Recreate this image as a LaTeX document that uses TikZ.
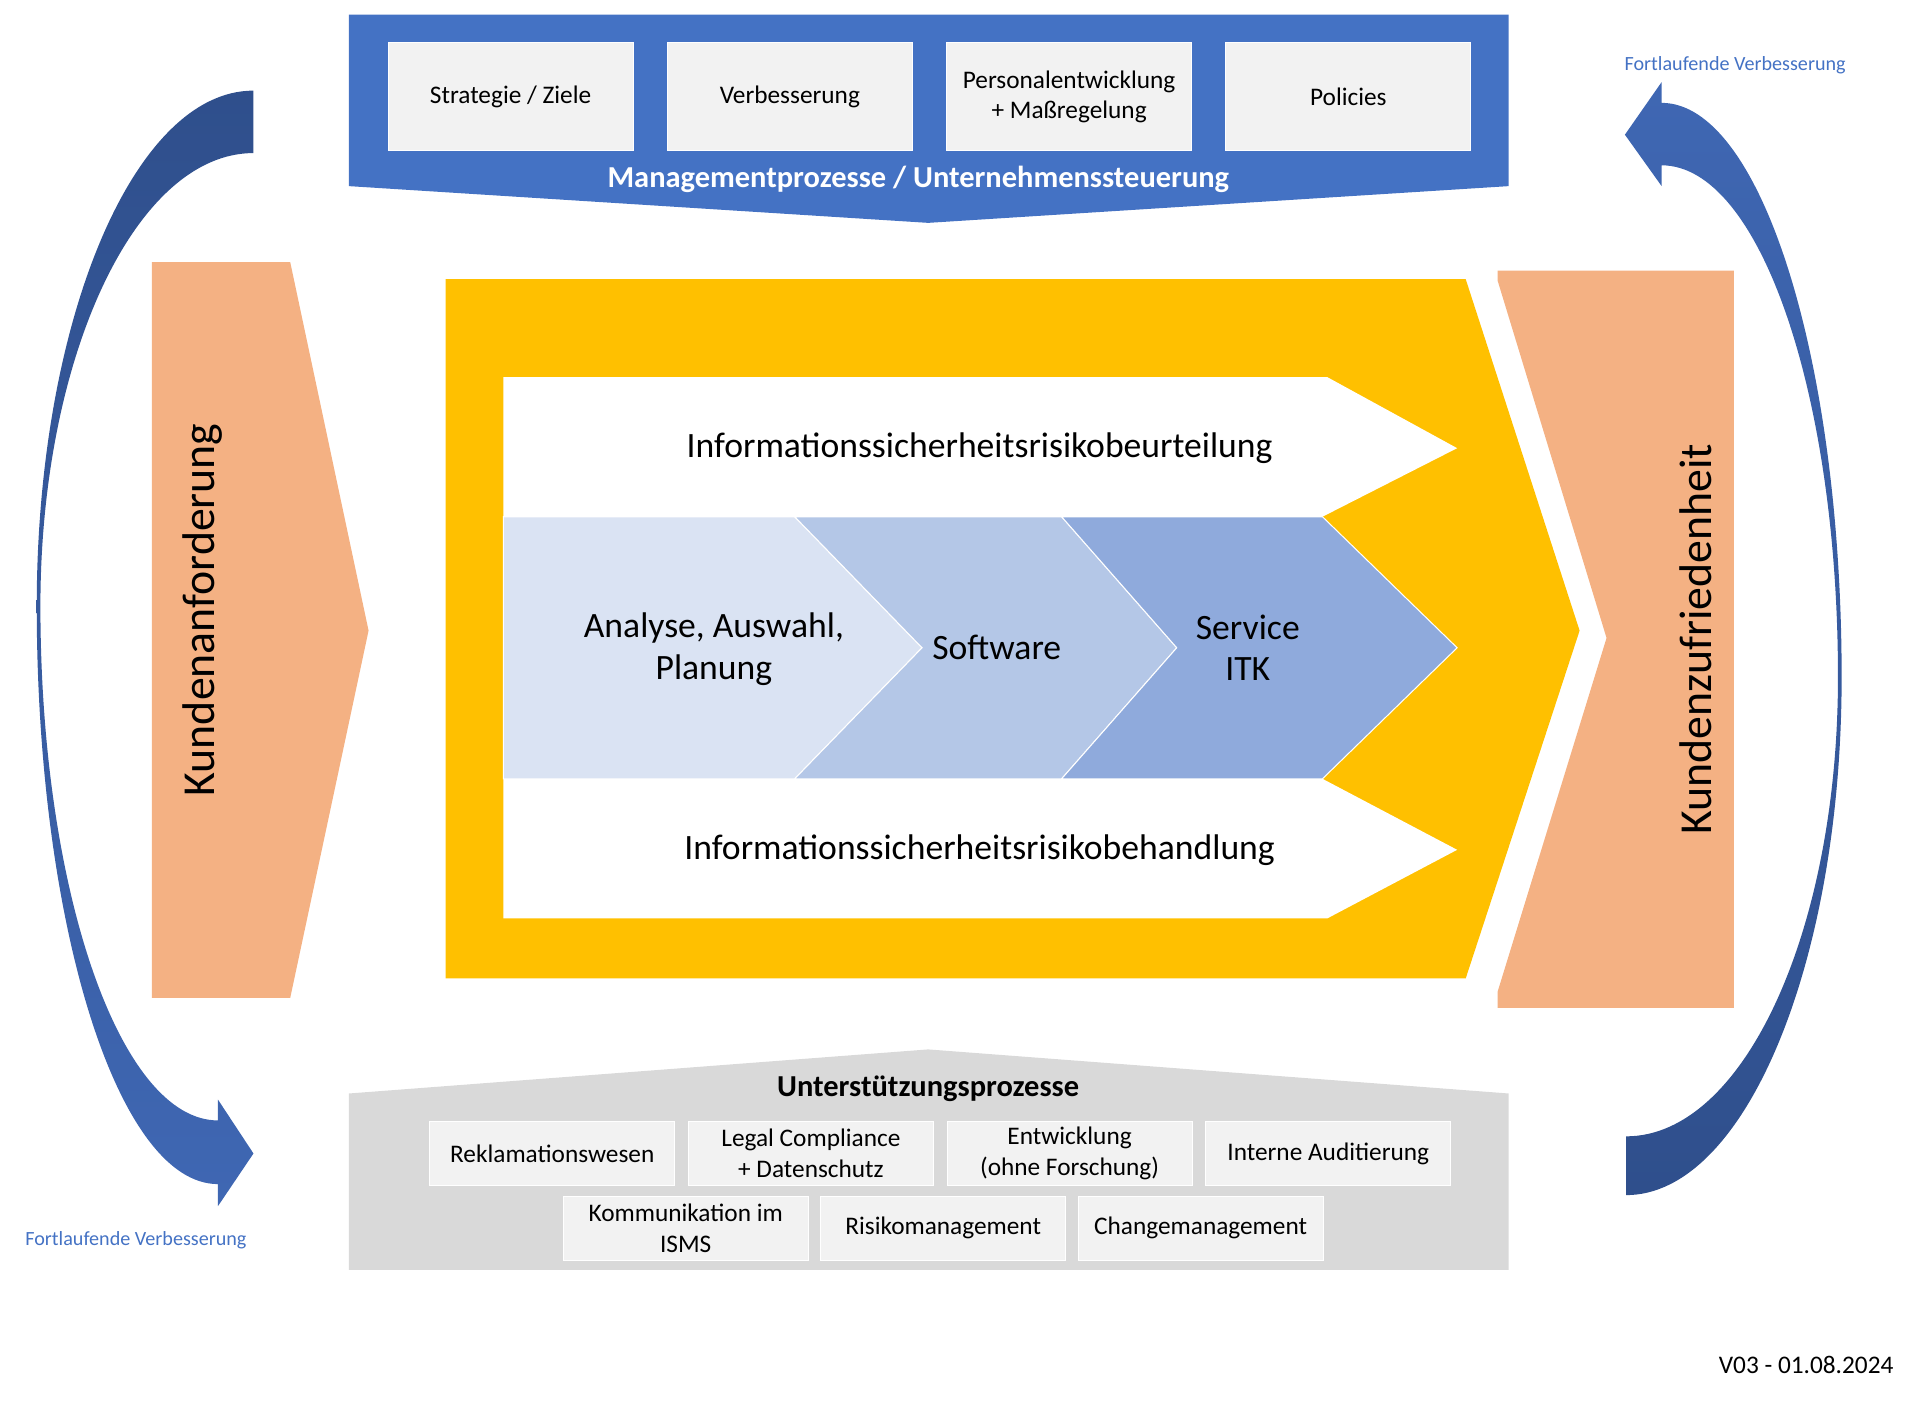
\documentclass[tikz,border=0pt]{standalone}
\usepackage{fontspec}
\setmainfont{Carlito}
\usepackage{tikz}
\usetikzlibrary{positioning}
\definecolor{mgmtblue}{HTML}{4472C4}
\definecolor{boxgray}{HTML}{F2F2F2}
\definecolor{suppgray}{HTML}{D9D9D9}
\definecolor{custtan}{HTML}{F4B183}
\definecolor{coreyellow}{HTML}{FFC000}
\definecolor{chevA}{HTML}{DAE3F3}
\definecolor{chevB}{HTML}{B4C7E7}
\definecolor{chevC}{HTML}{8FAADC}
\definecolor{arrowdark}{HTML}{2F4F8C}
\definecolor{arrowlight}{HTML}{3F67B3}
\newcommand{\boxtxt}{\fontsize{14.7}{17.8}\selectfont}
\newcommand{\chevtxt}{\fontsize{20.7}{24.2}\selectfont}
\newcommand{\sidetxt}{\fontsize{26.6}{32}\selectfont}
\newcommand{\headtxt}{\fontsize{17.7}{21}\selectfont\bfseries}
\newcommand{\notetxt}{\fontsize{11.7}{14}\selectfont}
\tikzset{
	subbox/.style={
		rectangle,
		fill=boxgray,
		draw=white,
		line width=.6pt,
		align=center,
		inner sep=0pt,
		minimum width=50mm,
		font=\boxtxt
	},
	chevron/.style={
		draw=white,
		line width=.6pt
	}
}

\begin{document}
\begin{tikzpicture}[x=0.25mm, y=-0.25mm]
				\useasboundingbox (0,0) rectangle (1568,1148);
				
				\fill[mgmtblue] (285,12) -- (1232,12) -- (1232,152) -- (758,182) -- (285,152) -- cycle;
				\node[subbox, minimum height=22mm] (Strat) at (417,79) {Strategie / Ziele};
				\node[subbox, minimum height=22mm, right=6.8mm of Strat] (Verb) {Verbesserung};
				\node[subbox, minimum height=22mm, right=6.8mm of Verb] (Pers) {Personalentwicklung\\+ Maßregelung};
				\node[subbox, minimum height=22mm, right=6.8mm of Pers] (Pol) {Policies};
				\node[font=\headtxt, text=white, anchor=base] (MgmtTitle) at (750,153) {Managementprozesse / Unternehmenssteuerung};
				
				\fill[custtan] (124,214) -- (237,214) -- (301,515) -- (237,815) -- (124,815) -- cycle;
				\node[font=\sidetxt, rotate=90] (KAnf) at (165,498) {Kundenanforderung};
				
				\fill[coreyellow] (364,228) -- (1197,228) -- (1290,515) -- (1197,799) -- (364,799) -- cycle;
				\fill[white] (411,308) -- (1084,308) -- (1190,366) -- (1080,422) -- (411,422) -- cycle;
				\fill[white] (411,636) -- (1080,636) -- (1190,694) -- (1084,750) -- (411,750) -- cycle;
				\filldraw[chevron, fill=chevA] (411,422) -- (649,422) -- (753,529) -- (649,636) -- (411,636) -- cycle;
				\filldraw[chevron, fill=chevB] (649,422) -- (867,422) -- (961,529) -- (867,636) -- (649,636) -- (753,529) -- cycle;
				\filldraw[chevron, fill=chevC] (867,422) -- (1080,422) -- (1190,529) -- (1080,636) -- (867,636) -- (961,529) -- cycle;
				\node[font=\chevtxt] (RiskAssess) at (800,366) {Informationssicherheitsrisikobeurteilung};
				\node[font=\chevtxt, align=center] (Analyse) at (583,530) {Analyse, Auswahl,\\Planung};
				\node[font=\chevtxt] (Software) at (814,529) {Software};
				\node[font=\chevtxt, align=center] (Service) at (1019,529) {Service\\ITK};
				\node[font=\chevtxt] (RiskTreat) at (800,694) {Informationssicherheitsrisikobehandlung};
				
				\fill[custtan] (1223,221) -- (1416,221) -- (1416,823) -- (1223,823) -- (1223,810) -- (1312,521) -- (1223,229) -- cycle;
				\node[font=\sidetxt, rotate=90] (KZuf) at (1385,522) {Kundenzufriedenheit};
				
				\fill[suppgray] (285,893) -- (758,857) -- (1232,893) -- (1232,1037) -- (285,1037) -- cycle;
				\node[font=\headtxt] (SuppTitle) at (758,889) {Unterstützungsprozesse};
				\node[subbox, minimum height=13mm] (Rekl) at (451,942) {Reklamationswesen};
				\node[subbox, minimum height=13mm, right=2.6mm of Rekl] (Legal) {Legal Compliance\\+ Datenschutz};
				\node[subbox, minimum height=13mm, right=2.6mm of Legal] (Entw) {Entwicklung\\(ohne Forschung)};
				\node[subbox, minimum height=13mm, right=2.6mm of Entw] (Audit) {Interne Auditierung};
				\node[subbox, minimum height=13mm] (Komm) at (560,1003) {Kommunikation im\\ISMS};
				\node[subbox, minimum height=13mm, right=2.35mm of Komm] (Risk) {Risikomanagement};
				\node[subbox, minimum height=13mm, right=2.35mm of Risk] (Change) {Changemanagement};
				
				\shade[top color=arrowdark, bottom color=arrowlight] (207,74) .. controls (109,74) and (30,263) .. (30,495) .. controls (30,755) and (96,967) .. (178,967) -- (178,985) -- (207,942) -- (178,898) -- (178,915) .. controls (98,915) and (33,727) .. (33,495) .. controls (33,291) and (111,125) .. (207,125) -- cycle;
				\shade[top color=arrowlight, bottom color=arrowdark] (1328,976) .. controls (1425,976) and (1504,786) .. (1504,553) .. controls (1504,294) and (1438,84) .. (1357,84) -- (1357,67) -- (1327,110) -- (1357,152) -- (1357,135) .. controls (1437,135) and (1501,322) .. (1501,553) .. controls (1501,760) and (1424,928) .. (1328,928) -- cycle;
				\node[font=\notetxt, text=mgmtblue] (VerbTop) at (1417,53) {Fortlaufende Verbesserung};
				\node[font=\notetxt, text=mgmtblue] (VerbBot) at (111,1013) {Fortlaufende Verbesserung};
				
				\node[font=\boxtxt] (Version) at (1475,1115) {V03 - 01.08.2024};
			\end{tikzpicture}
\end{document}
